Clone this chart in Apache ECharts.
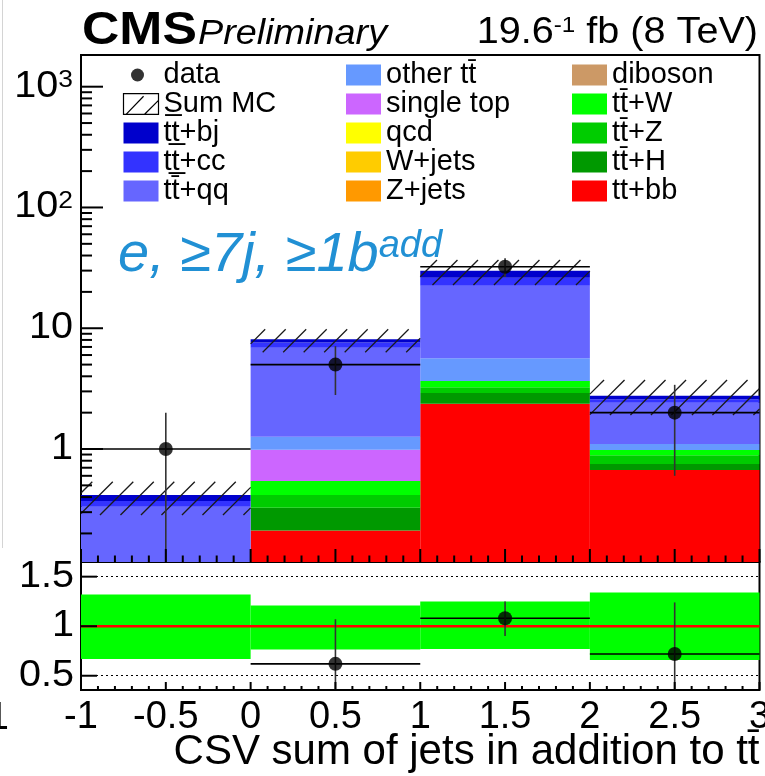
<!DOCTYPE html>
<html>
<head>
<meta charset="utf-8">
<title>CSV sum of jets in addition to ttbar</title>
<script src="https://cdn.jsdelivr.net/npm/echarts@6.0.0/dist/echarts.min.js"></script>
<style>
html, body { margin:0; padding:0; background:#fff; }
#chart { width:765px; height:776px; }
</style>
</head>
<body>
<div id="chart"></div>
<script>
// ---------------- data ----------------
const binEdges   = [-1, 0, 1, 2, 3];

const ttbb       = [0.010, 0.211, 2.37, 0.670];
const ttH        = [0.004, 0.116, 0.54, 0.081];
const ttZ        = [0.003, 0.089, 0.335, 0.136];
const ttW        = [0.004, 0.127, 0.415, 0.094];
const diboson    = [0, 0, 0, 0];
const zjets      = [0, 0, 0, 0];
const wjets      = [0, 0, 0, 0];
const qcd        = [0, 0, 0, 0];
const singleTop  = [0, 0.444, 0, 0];
const otherTT    = [0.020, 0.277, 1.98, 0.119];
const ttqq       = [0.292, 5.636, 16.86, 1.317];
const ttcc       = [0.038, 0.72, 3.70, 0.162];
const ttbj       = [0.045, 0.47, 3.75, 0.184];

const mcUncLow   = [0.284, 6.32, 22.8, 1.91];
const mcUncHigh  = [0.536, 9.80, 36.7, 3.73];

const dataValues  = [1, 5, 32.3, 2];
const dataErrLow  = [1.0, 2.2, 5.7, 1.4];
const dataErrHigh = [1.0, 2.1, 5.7, 1.4];

const ratioValues   = [null, 0.62, 1.08, 0.72];
const ratioErrLow   = [null, 0.28, 0.18, 0.51];
const ratioErrHigh  = [null, 0.45, 0.17, 0.52];
const ratioBandLow  = [0.67, 0.765, 0.77, 0.66];
const ratioBandHigh = [1.32, 1.21, 1.25, 1.34];

const yMajorTicks  = [1, 10, 100, 1000];
const yTickLabels  = ['1', '10', '10{s|2}', '10{s|3}'];
const yMinorTicks  = [0.2,0.3,0.4,0.5,0.6,0.7,0.8,0.9, 2,3,4,5,6,7,8,9, 20,30,40,50,60,70,80,90, 200,300,400,500,600,700,800,900];
const ratioTicks      = [0.5, 1, 1.5];
const ratioTickLabels = ['0.5', '1', '1.5'];
const xMajorTicks  = [-1, -0.5, 0, 0.5, 1, 1.5, 2, 2.5, 3];
const xMinorTicks  = [-0.9,-0.8,-0.7,-0.6,-0.4,-0.3,-0.2,-0.1, 0.1,0.2,0.3,0.4,0.6,0.7,0.8,0.9,
                      1.1,1.2,1.3,1.4,1.6,1.7,1.8,1.9, 2.1,2.2,2.3,2.4,2.6,2.7,2.8,2.9];

// ---------------- names ----------------
const N_DATA = 'data', N_SUM = 'S\u0332um MC';
const N_BJ = 'tt\u0332+bj', N_CC = 'tt\u0332+cc', N_QQ = 'tt\u0304+qq';
const N_OTHER = 'other tt\u0304', N_ST = 'single top', N_QCD = 'qcd', N_W = 'W+jets', N_Z = 'Z+jets';
const N_VV = 'diboson', N_TTW = 'tt\u0304+W', N_TTZ = 'tt\u0304+Z', N_TTH = 'tt\u0304+H', N_TTBB = 'tt+bb';

// ---------------- layout constants ----------------
const X_MIN = -1, X_MAX = 3;
const Y_MIN = 0.116, Y_MAX = 1830;
const R_MIN = 0.356, R_MAX = 1.648;
const FONT = '"Liberation Sans", Arial, Helvetica, sans-serif';

const stackLayers = [
  { name: N_TTBB,  values: ttbb,      color: '#ff0000' },
  { name: N_TTH,   values: ttH,       color: '#009900' },
  { name: N_TTZ,   values: ttZ,       color: '#00cc00' },
  { name: N_TTW,   values: ttW,       color: '#00ff00' },
  { name: N_VV,    values: diboson,   color: '#cc9966' },
  { name: N_Z,     values: zjets,     color: '#ff9900' },
  { name: N_W,     values: wjets,     color: '#ffcc00' },
  { name: N_QCD,   values: qcd,       color: '#ffff00' },
  { name: N_ST,    values: singleTop, color: '#cc66ff' },
  { name: N_OTHER, values: otherTT,   color: '#6699ff' },
  { name: N_QQ,    values: ttqq,      color: '#6666ff' },
  { name: N_CC,    values: ttcc,      color: '#3333ff' },
  { name: N_BJ,    values: ttbj,      color: '#0000cc' }
];

// ---------------- render helpers ----------------
function rectRender(color, floor) {
  return function (params, api) {
    const lo = Math.max(api.value(2), floor);
    const hi = api.value(3);
    if (!(hi > lo)) return null;
    const a = api.coord([api.value(0), hi]);
    const b = api.coord([api.value(1), lo]);
    return { type: 'rect', shape: { x: a[0], y: a[1], width: b[0] - a[0], height: b[1] - a[1] },
             style: { fill: color, stroke: null } };
  };
}

function hatchRender(params, api) {
  const a = api.coord([api.value(0), api.value(3)]);
  const b = api.coord([api.value(1), api.value(2)]);
  const left = a[0], right = b[0], top = a[1], bottom = b[1];
  const step = 20.5;
  const children = [];
  const cStart = Math.ceil((left + top) / step) * step;
  for (let c = cStart; c <= right + bottom; c += step) {
    const xa = Math.max(left, c - bottom), xb = Math.min(right, c - top);
    if (xb > xa) children.push({ type: 'line', shape: { x1: xa, y1: c - xa, x2: xb, y2: c - xb },
                                 style: { stroke: '#1a1a1a', lineWidth: 1.3 } });
  }
  return { type: 'group', children: children };
}

function errRender(floor) {
  return function (params, api) {
    const xc = api.value(0), v = api.value(1);
    const lo = Math.max(api.value(2), floor), hi = api.value(3);
    const h0 = api.coord([api.value(4), v]), h1 = api.coord([api.value(5), v]);
    const v0 = api.coord([xc, lo]), v1 = api.coord([xc, hi]);
    return { type: 'group', children: [
      { type: 'line', shape: { x1: h0[0], y1: h0[1], x2: h1[0], y2: h1[1] }, style: { stroke: '#000', lineWidth: 1.6 } },
      { type: 'line', shape: { x1: v0[0], y1: v0[1], x2: v1[0], y2: v1[1] }, style: { stroke: '#333', lineWidth: 1.6 } }
    ] };
  };
}

function tickLabelRender(labels, labelGap) {
  return function (params, api) {
    const p = api.coord([api.value(0), api.value(1)]);
    return { type: 'text', x: p[0] - labelGap, y: p[1], scaleX: 1.1,
      style: { text: labels[api.value(2)], align: 'right', verticalAlign: 'middle', fontFamily: FONT, fontSize: 36,
               lineHeight: 36, fill: '#000',
               rich: { s: { fontFamily: FONT, fontSize: 24, lineHeight: 14, verticalAlign: 'top', fill: '#000' } } } };
  };
}

// ---------------- build series ----------------
const series = [];
const cum = binEdges.slice(0, -1).map(() => 0);
stackLayers.forEach(layer => {
  const data = layer.values.map((v, i) => {
    const lo = cum[i], hi = cum[i] + v;
    cum[i] = hi;
    return [binEdges[i], binEdges[i + 1], lo, hi];
  });
  series.push({ type: 'custom', name: layer.name, xAxisIndex: 0, yAxisIndex: 0, clip: true, silent: true,
    itemStyle: { color: layer.color }, encode: { x: [0, 1], y: 3 }, data: data,
    renderItem: rectRender(layer.color, Y_MIN * 0.5) });
});

series.push({ type: 'custom', name: N_SUM, xAxisIndex: 0, yAxisIndex: 0, clip: true, silent: true,
  itemStyle: { color: '#000' }, encode: { x: [0, 1], y: 3 },
  data: mcUncLow.map((lo, i) => [binEdges[i], binEdges[i + 1], lo, mcUncHigh[i]]),
  renderItem: hatchRender });

series.push({ type: 'custom', name: 'data errors', xAxisIndex: 0, yAxisIndex: 0, clip: true, silent: true,
  encode: { x: 0, y: 1 },
  data: dataValues.map((v, i) => [(binEdges[i] + binEdges[i + 1]) / 2, v, v - dataErrLow[i], v + dataErrHigh[i], binEdges[i], binEdges[i + 1]]),
  renderItem: errRender(Y_MIN * 0.1) });

series.push({ type: 'scatter', name: N_DATA, xAxisIndex: 0, yAxisIndex: 0, symbol: 'circle', symbolSize: 14,
  itemStyle: { color: '#000' }, silent: true, z: 4,
  data: dataValues.map((v, i) => [(binEdges[i] + binEdges[i + 1]) / 2, v]) });

series.push({ type: 'custom', name: 'y labels', xAxisIndex: 0, yAxisIndex: 0, clip: false, silent: true, z: 3,
  encode: { x: 0, y: 1 },
  data: yMajorTicks.map((v, i) => [X_MIN, v, i]),
  renderItem: tickLabelRender(yTickLabels, 8) });

// ratio panel
series.push({ type: 'custom', name: 'MC uncertainty', xAxisIndex: 1, yAxisIndex: 1, clip: true, silent: true,
  encode: { x: [0, 1], y: 3 },
  data: ratioBandLow.map((lo, i) => [binEdges[i], binEdges[i + 1], lo, ratioBandHigh[i]]),
  renderItem: rectRender('#00ff00', -10) });

series.push({ type: 'line', name: 'unity', xAxisIndex: 1, yAxisIndex: 1, silent: true, symbol: 'none',
  data: [[X_MIN, 1], [X_MAX, 1]], lineStyle: { color: '#ff0000', width: 2.5 }, z: 3,
  markLine: { silent: true, symbol: 'none', label: { show: false },
    lineStyle: { color: '#000', width: 1, type: [2, 3] },
    data: [{ yAxis: 0.5 }, { yAxis: 1.5 }] } });

const ratioIdx = ratioValues.map((v, i) => i).filter(i => ratioValues[i] !== null);
series.push({ type: 'custom', name: 'ratio errors', xAxisIndex: 1, yAxisIndex: 1, clip: true, silent: true, z: 4,
  encode: { x: 0, y: 1 },
  data: ratioIdx.map(i => [(binEdges[i] + binEdges[i + 1]) / 2, ratioValues[i], ratioValues[i] - ratioErrLow[i],
                           ratioValues[i] + ratioErrHigh[i], binEdges[i], binEdges[i + 1]]),
  renderItem: errRender(-10) });

series.push({ type: 'scatter', name: 'ratio', xAxisIndex: 1, yAxisIndex: 1, symbol: 'circle', symbolSize: 14,
  itemStyle: { color: '#000' }, silent: true, z: 5,
  data: ratioIdx.map(i => [(binEdges[i] + binEdges[i + 1]) / 2, ratioValues[i]]) });

series.push({ type: 'custom', name: 'ratio y labels', xAxisIndex: 1, yAxisIndex: 1, clip: false, silent: true, z: 3,
  encode: { x: 0, y: 1 },
  data: ratioTicks.map((v, i) => [X_MIN, v, i]),
  renderItem: tickLabelRender(ratioTickLabels, 7) });

// ---------------- legends ----------------
const legendBase = {
  orient: 'vertical', top: 60.5, itemGap: 0, itemWidth: 35, itemHeight: 21, padding: 0,
  icon: 'rect', selectedMode: false,
  textStyle: { fontFamily: FONT, fontSize: 29, lineHeight: 29, color: '#000' }
};
const DOT_ICON = 'path://M0,0M35,21M7.5,10.5a6.5,6.5 0 1,0 13,0a6.5,6.5 0 1,0 -13,0Z';
const HATCH_ICON = 'path://M0.5,0.5L34.5,0.5L34.5,20.5L0.5,20.5Z M3,20.5L20,3 M21,20.5L34.5,7';

const staticGraphics = [
  { type: 'line', silent: true, shape: { x1: 2.5, y1: 0, x2: 2.5, y2: 548 }, style: { stroke: '#d4d4d4', lineWidth: 1 } },
  { type: 'text', silent: true, x: 82, y: 31, scaleX: 1.1,
    style: { text: 'CMS', fontFamily: FONT, fontWeight: 'bold', fontSize: 47, fill: '#000', verticalAlign: 'middle' } },
  { type: 'text', silent: true, x: 198, y: 34, scaleX: 1.08,
    style: { text: 'Preliminary', fontFamily: FONT, fontStyle: 'italic', fontSize: 35, fill: '#000', verticalAlign: 'middle' } },
  { type: 'text', silent: true, x: 758, y: 33, scaleX: 1.1,
    style: { text: '19.6{s|-1} fb (8 TeV)', fontFamily: FONT, fontSize: 36, lineHeight: 36, fill: '#000',
             align: 'right', verticalAlign: 'middle',
             rich: { s: { fontFamily: FONT, fontSize: 22, lineHeight: 12, verticalAlign: 'top', fill: '#000' } } } },
  { type: 'text', silent: true, x: 118, y: 255,
    style: { text: 'e, \u22657j, \u22651b{s|add}', fontFamily: FONT, fontStyle: 'italic', fontSize: 56, lineHeight: 56,
             fill: '#2190d4', verticalAlign: 'middle',
             rich: { s: { fontFamily: FONT, fontStyle: 'italic', fontSize: 38, lineHeight: 23, verticalAlign: 'top', fill: '#2190d4' } } } },
  { type: 'text', silent: true, x: 9, y: 719,
    style: { text: '1', fontFamily: FONT, fontSize: 38, fill: '#000', align: 'right', verticalAlign: 'middle' } }
];

const option = {
  animation: false,
  backgroundColor: '#fff',
  grid: [
    { left: 81, right: 5.5, top: 55, bottom: 214, show: true, borderColor: '#000', borderWidth: 2, outerBoundsMode: 'none' },
    { left: 81, right: 5.5, top: 562, bottom: 86, show: true, borderColor: '#000', borderWidth: 2, outerBoundsMode: 'none' }
  ],
  xAxis: [
    { gridIndex: 0, type: 'value', min: X_MIN, max: X_MAX, interval: 0.5,
      axisLine: { show: false }, splitLine: { show: false }, axisLabel: { show: false }, axisTick: { show: false } },
    { gridIndex: 1, type: 'value', min: X_MIN, max: X_MAX, interval: 0.5,
      axisLine: { show: false }, splitLine: { show: false }, axisTick: { show: false },
      axisLabel: { show: true, fontFamily: FONT, fontSize: 38, color: '#000', margin: 9 },
      name: 'CSV sum of jets in addition to tt\u0304', nameLocation: 'end', nameGap: 0, nameMoveOverlap: false,
      nameTextStyle: { fontFamily: FONT, fontSize: 42, color: '#000', align: 'right', verticalAlign: 'top', padding: [41, 0, 0, 0] } }
  ],
  yAxis: [
    { gridIndex: 0, type: 'log', logBase: 10, min: Y_MIN, max: Y_MAX,
      axisLine: { show: false }, axisTick: { show: false }, axisLabel: { show: false }, splitLine: { show: false } },
    { gridIndex: 1, type: 'value', min: R_MIN, max: R_MAX,
      axisLine: { show: false }, axisTick: { show: false }, axisLabel: { show: false }, splitLine: { show: false } }
  ],
  legend: [
    Object.assign({}, legendBase, { left: 121, data: [
      { name: N_DATA, icon: DOT_ICON, itemStyle: { color: '#000' } },
      { name: N_SUM, icon: HATCH_ICON, itemStyle: { color: 'none', borderColor: '#000', borderWidth: 1.2 } },
      N_BJ, N_CC, N_QQ ] }),
    Object.assign({}, legendBase, { left: 346, data: [N_OTHER, N_ST, N_QCD, N_W, N_Z] }),
    Object.assign({}, legendBase, { left: 572, data: [N_VV, N_TTW, N_TTZ, N_TTH, N_TTBB] })
  ],
  graphic: staticGraphics,
  series: series
};

const chart = echarts.init(document.getElementById('chart'), null, { renderer: 'canvas' });
chart.setOption(option);

// ---------------- tick marks, positioned through the axes' own scales ----------------
function tickRect(px, vertical, len) {
  const shape = vertical
    ? { x: px[0] - 1, y: px[1] - len, width: 2, height: len }
    : { x: px[0], y: px[1] - 1, width: len, height: 2 };
  return { type: 'rect', silent: true, z: 50, shape: shape, style: { fill: '#000' } };
}
const tickGraphics = [];
const mainGrid = { xAxisIndex: 0, yAxisIndex: 0 };
const ratioGrid = { xAxisIndex: 1, yAxisIndex: 1 };
yMajorTicks.forEach(v => tickGraphics.push(tickRect(chart.convertToPixel(mainGrid, [X_MIN, v]), false, 22)));
yMinorTicks.forEach(v => tickGraphics.push(tickRect(chart.convertToPixel(mainGrid, [X_MIN, v]), false, 11)));
xMajorTicks.forEach(v => tickGraphics.push(tickRect(chart.convertToPixel(mainGrid, [v, Y_MIN]), true, 13)));
xMinorTicks.forEach(v => tickGraphics.push(tickRect(chart.convertToPixel(mainGrid, [v, Y_MIN]), true, 6.5)));
ratioTicks.forEach(v => tickGraphics.push(tickRect(chart.convertToPixel(ratioGrid, [X_MIN, v]), false, 16)));
xMajorTicks.forEach(v => tickGraphics.push(tickRect(chart.convertToPixel(ratioGrid, [v, R_MIN]), true, 8)));
xMinorTicks.forEach(v => tickGraphics.push(tickRect(chart.convertToPixel(ratioGrid, [v, R_MIN]), true, 4)));
chart.setOption({ graphic: staticGraphics.concat(tickGraphics) });
</script>
</body>
</html>
